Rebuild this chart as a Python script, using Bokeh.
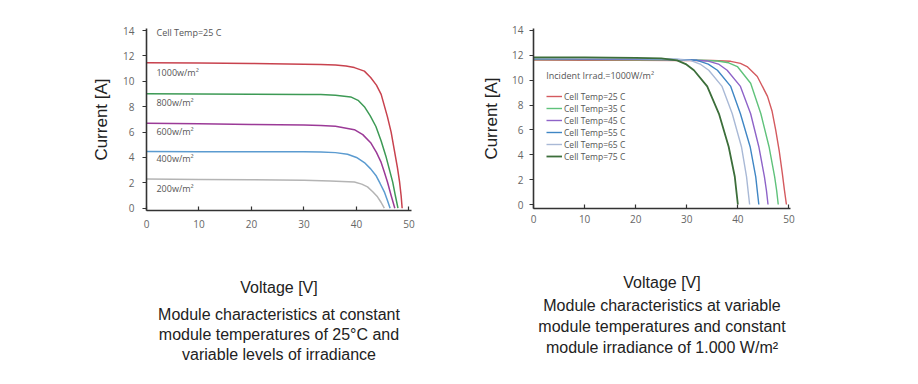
from bokeh.plotting import figure
from bokeh.layouts import row
from bokeh.models import Title, Legend, LegendItem, Range1d
from bokeh.core.properties import value
from bokeh.embed import file_html
from bokeh.resources import INLINE

# ---------------- Left chart: constant temperature, variable irradiance ----------------
irr_labels = ["1000w/m²", "800w/m²", "600w/m²", "400w/m²", "200w/m²"]
irr_colors = ["#c8424e", "#3d9a55", "#9b3a97", "#5b9bd0", "#b4b4b4"]

v_1000 = [0, 10, 20, 30, 33.2, 36, 38.0, 39.6, 41.5, 42.7, 43.8, 44.7, 45.9, 46.6, 47.2, 47.8, 48.2, 48.5, 48.7]
i_1000 = [11.47, 11.44, 11.40, 11.35, 11.32, 11.28, 11.2, 11.08, 10.8, 10.3, 9.7, 8.97, 7.2, 6.0, 4.6, 3.2, 2.1, 1.0, 0]
v_800 = [0, 10, 20, 30, 33.2, 36, 38.9, 40.3, 41.5, 42.6, 43.7, 44.7, 45.6, 46.3, 46.9, 47.4, 47.9]
i_800 = [9.02, 9.0, 8.98, 8.96, 8.95, 8.9, 8.77, 8.5, 8.0, 7.3, 6.44, 5.3, 4.1, 3.0, 2.06, 1.0, 0]
v_600 = [0, 10, 20, 30, 33.2, 36, 39.6, 41.2, 42.7, 43.8, 44.7, 45.3, 45.9, 46.6, 47.3]
i_600 = [6.7, 6.65, 6.6, 6.55, 6.52, 6.45, 6.19, 5.8, 5.16, 4.4, 3.61, 2.85, 2.06, 1.0, 0]
v_400 = [0, 10, 20, 30, 33.2, 36, 38.3, 40.0, 41.5, 42.7, 43.7, 44.5, 45.3, 45.9, 46.4]
i_400 = [4.46, 4.45, 4.44, 4.44, 4.43, 4.38, 4.25, 4.0, 3.6, 3.1, 2.58, 1.95, 1.29, 0.6, 0]
v_200 = [0, 10, 20, 30, 35, 39.6, 41.0, 42.1, 43.1, 44.0, 44.7, 45.3]
i_200 = [2.3, 2.27, 2.24, 2.2, 2.15, 2.06, 1.9, 1.68, 1.3, 0.9, 0.45, 0]

irr_label_y = [10.72, 8.31, 6.07, 3.89, 1.58]
left_note = "Cell Temp=25 C"
left_caption = ["Module characteristics at constant",
                "module temperatures of 25°C and",
                "variable levels of irradiance"]

# ---------------- Right chart: constant irradiance, variable temperature ----------------
temp_labels = ["Cell Temp=25 C", "Cell Temp=35 C", "Cell Temp=45 C",
               "Cell Temp=55 C", "Cell Temp=65 C", "Cell Temp=75 C"]
temp_colors = ["#d45a5f", "#5fc27a", "#8e63c8", "#3f86c4", "#a9b9d6", "#3c6e3a"]
temp_widths = [1.4, 1.4, 1.4, 1.4, 1.4, 1.8]

v_25 = [0, 10, 20, 30, 35, 38.6, 40.5, 41.8, 43.8, 45.8, 46.7, 47.4, 48.1, 48.7, 49.1, 49.5]
i_25 = [11.62, 11.61, 11.6, 11.59, 11.58, 11.52, 11.35, 11.1, 10.3, 8.7, 7.5, 6.0, 4.3, 2.5, 1.2, 0]
v_35 = [0, 10, 20, 30, 33, 36, 38.2, 39.9, 42.5, 44.5, 46.1, 47.2, 47.6, 47.9]
i_35 = [11.67, 11.66, 11.65, 11.62, 11.6, 11.55, 11.4, 11.1, 9.76, 7.3, 4.65, 2.23, 1.1, 0]
v_45 = [0, 10, 20, 30, 34, 36.2, 37.9, 40.5, 42.5, 44.1, 45.2, 45.6, 45.9]
i_45 = [11.72, 11.71, 11.69, 11.65, 11.55, 11.3, 10.8, 9.5, 7.3, 4.65, 2.23, 1.1, 0]
v_55 = [0, 10, 20, 28, 32, 34.2, 36, 38.6, 40.5, 42.4, 43.5, 43.8, 44.1]
i_55 = [11.75, 11.74, 11.72, 11.67, 11.6, 11.3, 10.8, 9.5, 7.3, 4.65, 2.23, 1.1, 0]
v_65 = [0, 10, 20, 27, 30.7, 32.6, 34.3, 36.9, 38.9, 40.7, 41.7, 42.0, 42.3]
i_65 = [11.78, 11.77, 11.75, 11.71, 11.6, 11.3, 10.8, 9.5, 7.3, 4.65, 2.23, 1.1, 0]
v_75 = [0, 10, 20, 25, 28.1, 29.8, 31.4, 34, 36.3, 38.2, 39.4, 39.7, 40.0]
i_75 = [11.84, 11.83, 11.8, 11.75, 11.6, 11.3, 10.8, 9.5, 7.3, 4.65, 2.23, 1.1, 0]

right_note = "Incident Irrad.=1000W/m²"
right_caption = ["Module characteristics at variable",
                 "module temperatures and constant",
                 "module irradiance of 1.000 W/m²"]

x_ticks = [0, 10, 20, 30, 40, 50]
y_ticks = [0, 2, 4, 6, 8, 10, 12, 14]

TICK_FONT = "Open Sans"
CAP_FONT = "Liberation Sans"


def style(p, x_label_standoff, y_label_standoff, x_tick_standoff, y_tick_standoff):
    p.xgrid.visible = False
    p.ygrid.visible = False
    p.outline_line_color = None
    p.background_fill_color = "white"
    p.border_fill_color = "white"
    for ax in (p.xaxis[0], p.yaxis[0]):
        ax.axis_line_color = "#333333"
        ax.axis_line_width = 1.6
        ax.major_tick_line_color = "#333333"
        ax.minor_tick_line_color = "#333333"
        ax.major_tick_line_width = 1.2
        ax.minor_tick_line_width = 1.2
        ax.major_label_text_font = TICK_FONT
        ax.major_label_text_font_size = "10px"
        ax.major_label_text_color = "#666666"
        ax.axis_label_text_font = CAP_FONT
        ax.axis_label_text_font_style = "normal"
        ax.axis_label_text_color = "#222222"
    xa = p.xaxis[0]
    xa.ticker = x_ticks
    xa.ticker.num_minor_ticks = 2
    xa.major_tick_in = 4
    xa.major_tick_out = 0
    xa.minor_tick_in = 4
    xa.minor_tick_out = 0
    xa.major_label_standoff = x_tick_standoff
    xa.axis_label = "Voltage [V]"
    xa.axis_label_text_font_size = "16px"
    xa.axis_label_standoff = x_label_standoff
    ya = p.yaxis[0]
    ya.ticker = y_ticks
    ya.major_tick_in = 0
    ya.major_tick_out = 4
    ya.minor_tick_line_color = None
    ya.major_label_standoff = y_tick_standoff
    ya.axis_label = "Current [A]"
    ya.axis_label_text_font_size = "17px"
    ya.axis_label_standoff = y_label_standoff


def add_caption(p, lines, gap_font=None, standoff=2):
    if gap_font:
        p.add_layout(Title(text=" ", text_font_size=gap_font, standoff=0), "below")
    for ln in lines:
        t = Title(text=ln, align="center", text_font=CAP_FONT, text_font_size="16px",
                  text_font_style="normal", text_color="#222222", standoff=standoff)
        p.add_layout(t, "below")


# ---- left figure
p1 = figure(frame_width=265, frame_height=182, min_border_left=146, min_border_right=37,
            min_border_top=28, min_border_bottom=10,
            x_range=Range1d(0, 50.48), y_range=Range1d(-0.18, 14.16),
            output_backend="svg", toolbar_location=None)
style(p1, x_label_standoff=48, y_label_standoff=9, x_tick_standoff=9, y_tick_standoff=8)

left_v = [v_1000, v_800, v_600, v_400, v_200]
left_i = [i_1000, i_800, i_600, i_400, i_200]
for vv, ii, c in zip(left_v, left_i, irr_colors):
    p1.line(vv, ii, line_color=c, line_width=1.5)

p1.text(x=[1.9] * len(irr_labels), y=irr_label_y, text=irr_labels,
        text_font=value(TICK_FONT), text_font_size="9px", text_color="#555555",
        text_baseline="middle", text_align="left")
p1.text(x=[1.9], y=[13.82], text=[left_note],
        text_font=value(TICK_FONT), text_font_size="9px", text_color="#555555",
        text_baseline="middle", text_align="left")
add_caption(p1, left_caption, gap_font="3px", standoff=1)

# ---- right figure
p2 = figure(frame_width=257, frame_height=180, min_border_left=85, min_border_right=108,
            min_border_top=27, min_border_bottom=10,
            x_range=Range1d(0, 50.3), y_range=Range1d(-0.32, 14.16),
            output_backend="svg", toolbar_location=None)
style(p2, x_label_standoff=48, y_label_standoff=8, x_tick_standoff=6, y_tick_standoff=6)

right_v = [v_25, v_35, v_45, v_55, v_65, v_75]
right_i = [i_25, i_35, i_45, i_55, i_65, i_75]
items = []
for vv, ii, c, w, lab in zip(right_v, right_i, temp_colors, temp_widths, temp_labels):
    r = p2.line(vv, ii, line_color=c, line_width=w)
    items.append(LegendItem(label=lab, renderers=[r]))

legend = Legend(items=items, location=(13, 46), orientation="vertical",
                label_text_font=TICK_FONT, label_text_font_size="8.5px",
                label_text_color="#555555", label_height=12, glyph_height=12,
                glyph_width=16, label_standoff=2, spacing=0, padding=0, margin=0,
                background_fill_alpha=0, border_line_color=None)
p2.add_layout(legend, "center")

p2.text(x=[2.5], y=[10.4], text=[right_note],
        text_font=value(TICK_FONT), text_font_size="9px", text_color="#555555",
        text_baseline="middle", text_align="left")
add_caption(p2, right_caption, standoff=2)

layout = row(p1, p2)
open("out.html", "w").write(file_html(layout, INLINE))
